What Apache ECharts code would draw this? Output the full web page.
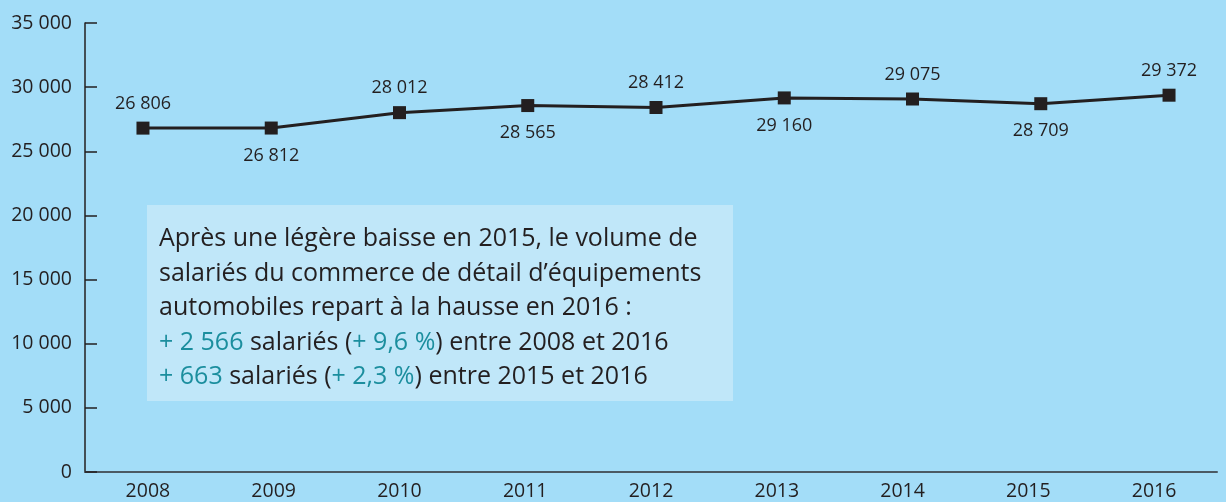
<!DOCTYPE html>
<html><head><meta charset="utf-8">
<script src="https://cdn.jsdelivr.net/npm/echarts@6/dist/echarts.min.js"></script>
<style>html,body{margin:0;padding:0;background:#a3ddf8;}#c{width:1226px;height:502px;}</style>
</head><body><div id="c"></div>
<script>
const years = [2008, 2009, 2010, 2011, 2012, 2013, 2014, 2015, 2016];
const yearLabels = ['2008','2009','2010','2011','2012','2013','2014','2015','2016'];
const salaries = [26806, 26812, 28012, 28565, 28412, 29160, 29075, 28709, 29372];
const labelPos = ['top','bottom','top','bottom','top','bottom','top','bottom','top'];
const yTicks = [0, 5000, 10000, 15000, 20000, 25000, 30000, 35000];

const fmt = v => String(v).replace(/\B(?=(\d{3})+(?!\d))/g, ' ');
const FONT = '"Open Sans", "Noto Sans", sans-serif';
const dark = '#231f20';
const teal = '#1b8e9e';

const chart = echarts.init(document.getElementById('c'));
chart.setOption({
  backgroundColor: '#a3ddf8',
  animation: false,
  grid: {left: 85, right: 9, top: 23, bottom: 30, containLabel: false},
  xAxis: [{
    type: 'category', data: yearLabels, boundaryGap: true,
    axisLine: {lineStyle: {color: '#4b5a64', width: 2}},
    axisTick: {inside: true, length: 10, lineStyle: {color: '#4b5a64', width: 2}},
    axisLabel: {color: dark, fontSize: 19.5, fontFamily: FONT, margin: 9}
  }, {
    type: 'value', position: 'bottom', show: false,
    min: 2007.548, max: 2016.374
  }],
  yAxis: {
    type: 'value', min: yTicks[0], max: yTicks[yTicks.length-1], interval: 5000,
    axisLine: {show: true, lineStyle: {color: dark, width: 1.5}},
    axisTick: {show: true, inside: true, length: 12, lineStyle: {color: dark, width: 1.5}},
    splitLine: {show: false},
    axisLabel: {color: dark, fontSize: 19.5, fontFamily: FONT, margin: 13, formatter: v => fmt(v)}
  },
  series: [{
    type: 'line', xAxisIndex: 1,
    data: salaries.map((v, i) => ({value: [years[i], v], label: {position: labelPos[i], distance: labelPos[i] === 'top' ? 9 : 12}})),
    symbol: 'rect', symbolSize: 13,
    itemStyle: {color: dark},
    lineStyle: {color: dark, width: 3},
    label: {show: true, color: dark, fontSize: 18, fontFamily: FONT, formatter: p => fmt(p.value[1])}
  }],
  graphic: [
    {type: 'rect', left: 147, top: 205, shape: {width: 586, height: 196}, style: {fill: '#c0e7f9'}, z: 10},
    {type: 'text', left: 159, top: 222, z: 11, style: {
      text: 'Après une légère baisse en 2015, le volume de\nsalariés du commerce de détail d’équipements\nautomobiles repart à la hausse en 2016 :\n{t|+ 2 566} salariés ({t|+ 9,6 %}) entre 2008 et 2016\n{t|+ 663} salariés ({t|+ 2,3 %}) entre 2015 et 2016',
      fill: dark, fontSize: 25, fontFamily: FONT, lineHeight: 34.5,
      rich: {t: {fill: teal, fontSize: 25, fontFamily: FONT, lineHeight: 34.5}}
    }}
  ]
});
</script></body></html>
